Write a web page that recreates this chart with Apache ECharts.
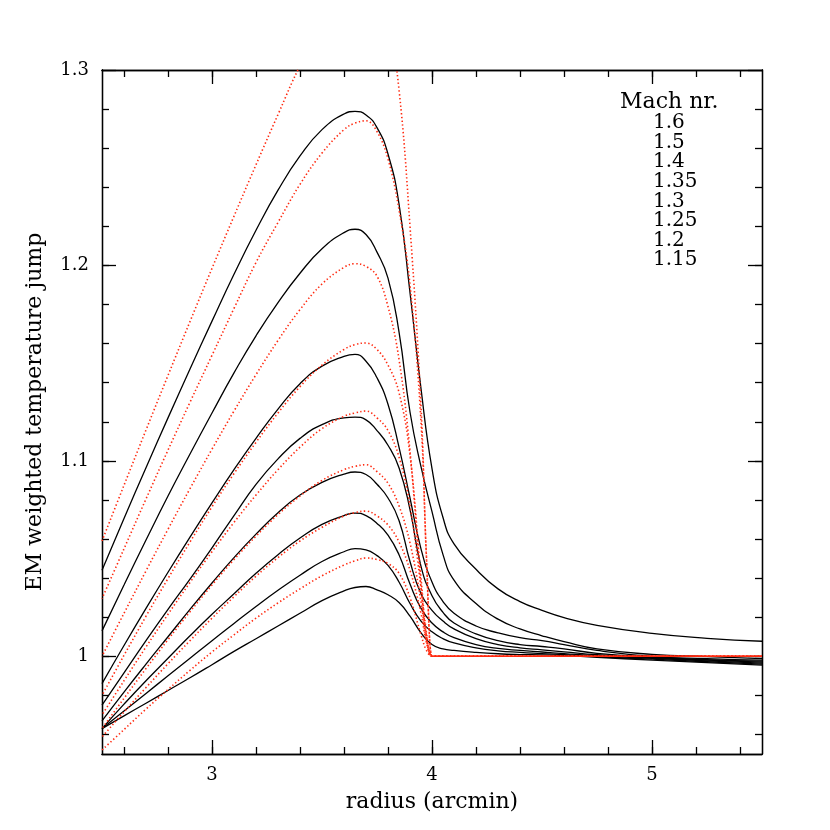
<!DOCTYPE html>
<html><head><meta charset="utf-8">
<script src="https://cdn.jsdelivr.net/npm/echarts@6/dist/echarts.min.js"></script>
<style>html,body{margin:0;padding:0;background:#fff}#c{width:830px;height:830px}</style>
</head><body><div id="c"></div>
<script>
// radius grid (arcmin) for the black (solid) curves
const xBlack = [2.5, 2.6, 2.7, 2.8, 2.9, 3.0, 3.1, 3.2, 3.3, 3.4, 3.5, 3.6, 3.65, 3.7, 3.75, 3.8, 3.85, 3.9, 3.95, 4.0, 4.05, 4.1, 4.2, 4.3, 4.4, 4.5, 4.6, 4.75, 5.0, 5.25, 5.5];
// black curves, one per Mach number
const b160 = [1.044, 1.0705, 1.0965, 1.122, 1.147, 1.1715, 1.1955, 1.218, 1.2385, 1.256, 1.2695, 1.2775, 1.2788, 1.277, 1.2705, 1.257, 1.2315, 1.186, 1.137, 1.096, 1.071, 1.0575, 1.0445, 1.0345, 1.028, 1.0235, 1.0198, 1.0158, 1.0117, 1.0092, 1.0077];
const b150 = [1.013, 1.0365, 1.0595, 1.0820, 1.1035, 1.1245, 1.145, 1.164, 1.181, 1.196, 1.2085, 1.2168, 1.2185, 1.2158, 1.2068, 1.1935, 1.166, 1.125, 1.097, 1.074, 1.052, 1.039, 1.027, 1.019, 1.014, 1.0105, 1.0075, 1.0038, 1.001, 0.9998, 0.9988];
const b140 = [0.986, 1.0055, 1.0245, 1.043, 1.061, 1.0785, 1.0955, 1.1115, 1.1265, 1.1395, 1.1485, 1.1535, 1.1545, 1.151, 1.1425, 1.129, 1.107, 1.081, 1.055, 1.038, 1.028, 1.022, 1.0155, 1.012, 1.0095, 1.008, 1.006, 1.003, 1.000, 0.9988, 0.998];
const b135 = [0.975, 0.9915, 1.008, 1.024, 1.0395, 1.0555, 1.072, 1.088, 1.101, 1.1115, 1.1185, 1.122, 1.1224, 1.121, 1.1155, 1.108, 1.0965, 1.075, 1.046, 1.031, 1.0225, 1.017, 1.0115, 1.008, 1.006, 1.005, 1.0038, 1.0015, 0.9995, 0.9983, 0.9975];
const b130 = [0.967, 0.9817, 0.996, 1.010, 1.024, 1.0375, 1.0505, 1.0625, 1.0735, 1.0825, 1.089, 1.0932, 1.0943, 1.093, 1.088, 1.081, 1.0695, 1.0485, 1.032, 1.0235, 1.018, 1.014, 1.009, 1.006, 1.0043, 1.0033, 1.0023, 1.0008, 0.9993, 0.998, 0.997];
const b125 = [0.963, 0.9755, 0.9875, 0.999, 1.0105, 1.0215, 1.032, 1.0425, 1.052, 1.0605, 1.0675, 1.072, 1.0733, 1.072, 1.068, 1.062, 1.052, 1.037, 1.0245, 1.017, 1.0125, 1.0095, 1.006, 1.004, 1.003, 1.0022, 1.0014, 1.0003, 0.999, 0.9977, 0.9965];
const b120 = [0.963, 0.972, 0.981, 0.990, 0.999, 1.008, 1.0168, 1.0255, 1.0338, 1.0415, 1.0485, 1.0535, 1.0551, 1.0545, 1.0515, 1.0465, 1.038, 1.027, 1.018, 1.0125, 1.009, 1.0068, 1.0043, 1.0028, 1.002, 1.0014, 1.0008, 0.9998, 0.9985, 0.9972, 0.996];
const b115 = [0.963, 0.9695, 0.976, 0.9825, 0.989, 0.9957, 1.0025, 1.009, 1.0155, 1.022, 1.0285, 1.0335, 1.0352, 1.0357, 1.034, 1.0315, 1.0275, 1.0205, 1.012, 1.006, 1.0038, 1.003, 1.002, 1.0013, 1.0009, 1.0007, 1.0003, 0.9995, 0.998, 0.9968, 0.9955];

// radius grid for the red (dotted) curves
const xRed = [2.5, 2.6, 2.7, 2.8, 2.9, 3.0, 3.1, 3.2, 3.3, 3.4, 3.5, 3.6, 3.65, 3.7, 3.75, 3.8, 3.85, 3.9, 3.95, 3.975, 4.0, 4.01, 4.05, 4.5, 5.0, 5.5];
const r1 = [1.059, 1.0875, 1.1158, 1.1437, 1.1713, 1.1985, 1.2252, 1.2515, 1.2772, 1.3022, 1.322, 1.336, 1.340, 1.341, 1.337, 1.325, 1.290, 1.220, 1.128, 1.050, 1.0, 1.0, 1.0, 1.0, 1.0, 1.0];
const r2 = [1.0295, 1.055, 1.0805, 1.1055, 1.130, 1.154, 1.178, 1.2015, 1.222, 1.2415, 1.2575, 1.2695, 1.2728, 1.274, 1.2685, 1.2545, 1.2285, 1.190, 1.120, 1.050, 1.0, 1.0, 1.0, 1.0, 1.0, 1.0];
const r3 = [1.000, 1.022, 1.0437, 1.065, 1.0858, 1.106, 1.1255, 1.1441, 1.1616, 1.1774, 1.1905, 1.199, 1.2009, 1.1995, 1.1945, 1.179, 1.152, 1.105, 1.036, 1.010, 1.0, 1.0, 1.0, 1.0, 1.0, 1.0];
const r4 = [0.980, 1.0005, 1.0205, 1.0398, 1.0585, 1.0765, 1.0935, 1.1095, 1.1245, 1.138, 1.149, 1.157, 1.1595, 1.1603, 1.157, 1.149, 1.135, 1.103, 1.040, 1.012, 1.0, 1.0, 1.0, 1.0, 1.0, 1.0];
const r5 = [0.970, 0.9875, 1.0048, 1.0215, 1.0378, 1.0535, 1.0685, 1.0825, 1.0955, 1.107, 1.1165, 1.1228, 1.1245, 1.1255, 1.122, 1.1155, 1.102, 1.077, 1.035, 1.010, 1.0, 1.0, 1.0, 1.0, 1.0, 1.0];
const r6 = [0.963, 0.9785, 0.9937, 1.0085, 1.0228, 1.0365, 1.0495, 1.0615, 1.0725, 1.082, 1.090, 1.0955, 1.0972, 1.098, 1.0945, 1.0885, 1.077, 1.058, 1.028, 1.008, 1.0, 1.0, 1.0, 1.0, 1.0, 1.0];
const r7 = [0.9587, 0.9715, 0.984, 0.9962, 1.008, 1.0195, 1.0305, 1.041, 1.0505, 1.059, 1.066, 1.0718, 1.0735, 1.0743, 1.0718, 1.0672, 1.0585, 1.044, 1.022, 1.007, 1.0, 1.0, 1.0, 1.0, 1.0, 1.0];
const r8 = [0.952, 0.9625, 0.973, 0.983, 0.9928, 1.0022, 1.011, 1.0195, 1.0273, 1.0345, 1.0412, 1.0467, 1.0488, 1.0503, 1.0495, 1.0475, 1.0425, 1.030, 1.011, 1.003, 1.0, 1.0, 1.0, 1.0, 1.0, 1.0];

// ticks
const xMajorTicks = [3, 4, 5];
const xMinorTicks = [2.6, 2.8, 3.0, 3.2, 3.4, 3.6, 3.8, 4.0, 4.2, 4.4, 4.6, 4.8, 5.0, 5.2, 5.4];
const yMajorTicks = [1.0, 1.1, 1.2, 1.3];
const yMinorTicks = [0.96, 0.98, 1.0, 1.02, 1.04, 1.06, 1.08, 1.1, 1.12, 1.14, 1.16, 1.18, 1.2, 1.22, 1.24, 1.26, 1.28];

// legend text
const legendTitle = 'Mach nr.';
const machLabels = ['1.6', '1.5', '1.4', '1.35', '1.3', '1.25', '1.2', '1.15'];

const xTitle = 'radius (arcmin)';
const yTitle = 'EM weighted temperature jump';

const blackCurves = [b160, b150, b140, b135, b130, b125, b120, b115];
const redCurves = [r1, r2, r3, r4, r5, r6, r7, r8];

const FONT = '"DejaVu Serif", serif';
const AX = '#000';

function pairs(xs, ys) { return xs.map((x, i) => [x, ys[i]]); }

const series = [];
blackCurves.forEach((c, i) => {
  series.push({
    type: 'line', name: 'M' + machLabels[i], data: pairs(xBlack, c),
    xAxisIndex: 0, yAxisIndex: 0,
    smooth: 0.5, showSymbol: false, symbol: 'none', clip: true, silent: true,
    lineStyle: { color: '#000', width: 1.3 }
  });
});
redCurves.forEach((c, i) => {
  series.push({
    type: 'line', name: 'R' + i, data: pairs(xRed, c),
    xAxisIndex: 0, yAxisIndex: 0,
    smooth: 0.4, showSymbol: false, symbol: 'none', clip: true, silent: true,
    lineStyle: { color: '#ff2a10', width: 1.6, type: [1.4, 2.4], dashOffset: i * 0.5 }
  });
});

function xAx(pos, ticks, len, opts) {
  return Object.assign({
    type: 'value', min: 2.5, max: 5.5, position: pos,
    axisLine: { show: true, onZero: false, lineStyle: { color: AX, width: 1.3 } },
    axisTick: { show: true, inside: true, length: len, customValues: ticks, lineStyle: { color: AX, width: 1.3 } },
    axisLabel: { show: false },
    splitLine: { show: false }
  }, opts || {});
}
function yAx(pos, ticks, len, opts) {
  return Object.assign({
    type: 'value', min: 0.95, max: 1.3, position: pos,
    axisLine: { show: true, onZero: false, lineStyle: { color: AX, width: 1.3 } },
    axisTick: { show: true, inside: true, length: len, customValues: ticks, lineStyle: { color: AX, width: 1.3 } },
    axisLabel: { show: false },
    splitLine: { show: false }
  }, opts || {});
}

const option = {
  animation: false,
  backgroundColor: '#fff',
  grid: { left: 102, right: 68, top: 70, bottom: 76, containLabel: false },
  xAxis: [
    xAx('bottom', xMajorTicks, 14, {
      axisLabel: { show: true, customValues: xMajorTicks, margin: 12, color: '#000', fontFamily: FONT, fontSize: 18 },
      name: xTitle, nameLocation: 'middle', nameGap: 37,
      nameTextStyle: { color: '#000', fontFamily: FONT, fontSize: 22 }
    }),
    xAx('bottom', xMinorTicks, 7),
    xAx('top', xMajorTicks, 14),
    xAx('top', xMinorTicks, 7)
  ],
  yAxis: [
    yAx('left', yMajorTicks, 14, {
      axisLabel: { show: true, customValues: yMajorTicks, margin: 13, color: '#000', fontFamily: FONT, fontSize: 18 },
      name: yTitle, nameLocation: 'middle', nameGap: 56,
      nameTextStyle: { color: '#000', fontFamily: FONT, fontSize: 22 }
    }),
    yAx('left', yMinorTicks, 7),
    yAx('right', yMajorTicks, 14),
    yAx('right', yMinorTicks, 7)
  ],
  graphic: [
    { type: 'text', left: 620, top: 91, style: { text: legendTitle, font: '22px ' + FONT, fill: '#000' } }
  ].concat(machLabels.map((t, i) => ({
    type: 'text', left: 653, top: 113 + i * 19.6,
    style: { text: t, font: '20px ' + FONT, fill: '#000' }
  }))),
  series: series
};

const chart = echarts.init(document.getElementById('c'), null, { renderer: 'canvas' });
chart.setOption(option);
</script>
</body></html>
